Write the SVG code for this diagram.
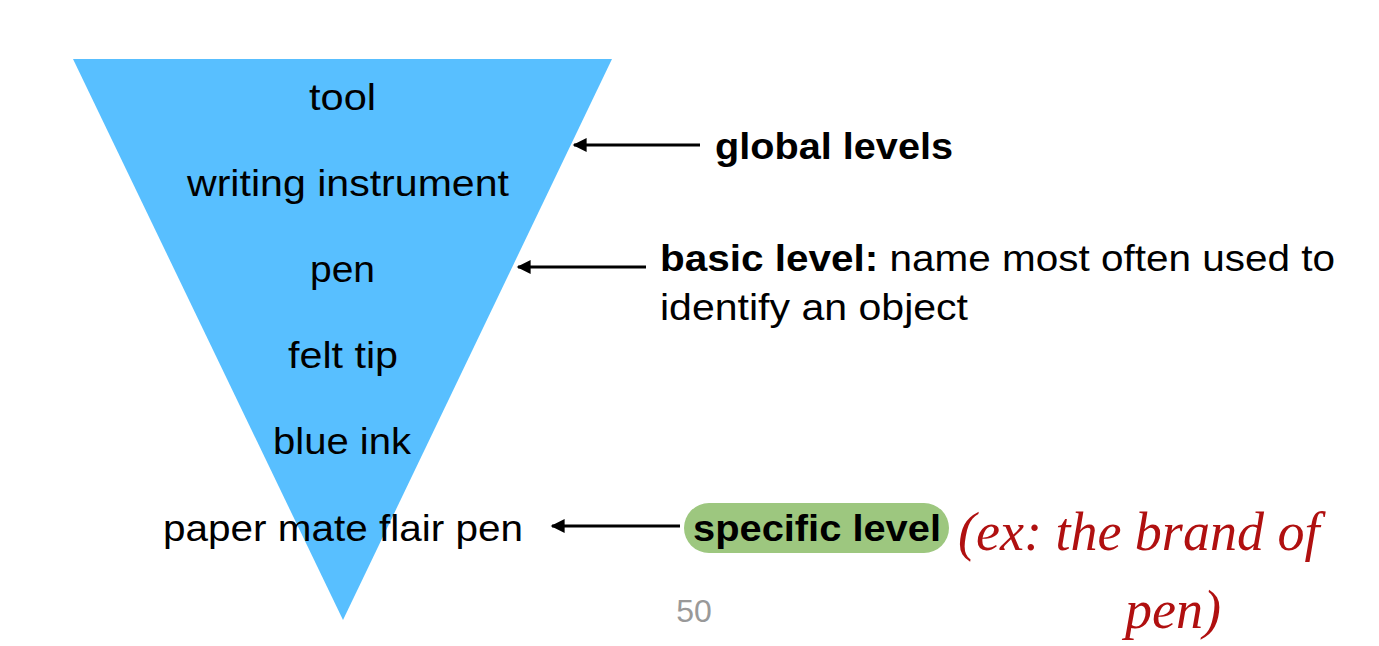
<svg xmlns="http://www.w3.org/2000/svg" width="1379" height="646" viewBox="0 0 1379 646">
<style>
.t{font-family:"Liberation Sans",Arial,sans-serif;font-size:37px;fill:#000}
.b{font-weight:bold}
.h{font-family:"Liberation Serif",serif;font-style:italic;font-size:54px;fill:#b01010}
</style>
<defs>
<marker id="ah2" viewBox="0 0 10 10" refX="9" refY="5" markerWidth="18" markerHeight="14" markerUnits="userSpaceOnUse" orient="auto"><path d="M0,0L10,5L0,10z" fill="#000"/></marker></defs>
<rect width="1379" height="646" fill="#fff"/>
<g id="pyramid">
<polygon points="73,59 612,59 343,620" fill="#58BFFF"/>
<text class="t" x="309" y="110" textLength="67" lengthAdjust="spacingAndGlyphs">tool</text>
<text class="t" x="187" y="196" textLength="322" lengthAdjust="spacingAndGlyphs">writing instrument</text>
<text class="t" x="310" y="282" textLength="65" lengthAdjust="spacingAndGlyphs">pen</text>
<text class="t" x="288" y="368" textLength="110" lengthAdjust="spacingAndGlyphs">felt tip</text>
<text class="t" x="273" y="454" textLength="138" lengthAdjust="spacingAndGlyphs">blue ink</text>
<text class="t" x="163" y="541" textLength="360" lengthAdjust="spacingAndGlyphs">paper mate flair pen</text>
</g>
<g id="connectors" stroke="#000" stroke-width="3">
<line x1="700" y1="145" x2="574" y2="145" marker-end="url(#ah2)"/>
<line x1="646" y1="267" x2="518" y2="267" marker-end="url(#ah2)"/>
<line x1="680" y1="526" x2="552" y2="526" marker-end="url(#ah2)"/>
</g>
<g id="global"><text class="t b" x="715" y="159" textLength="238" lengthAdjust="spacingAndGlyphs">global levels</text></g>
<g id="basic"><text class="t" x="660" y="271" textLength="675" lengthAdjust="spacingAndGlyphs"><tspan class="b">basic level:</tspan> name most often used to</text>
<text class="t" x="660" y="320" textLength="308" lengthAdjust="spacingAndGlyphs">identify an object</text></g>
<g id="specific"><rect x="684" y="503" width="265" height="50" rx="25" fill="#9DC77F"/>
<text class="t b" x="693" y="541" textLength="248" lengthAdjust="spacingAndGlyphs">specific level</text></g>
<g id="note"><text class="h" x="958" y="550">(ex: the brand of</text><text class="h" x="1125" y="628">pen)</text></g>
<text x="694" y="622" text-anchor="middle" style="font-family:'Liberation Sans',sans-serif;font-size:32px;fill:#999">50</text>
</svg>
